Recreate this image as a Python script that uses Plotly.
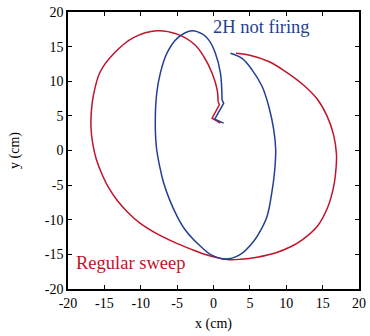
import plotly.graph_objects as go

# Regular sweep (red) trajectory: main smooth loop
red_x = [3.1, 4.85, 7.6, 9.9, 12.2, 14.2, 15.6, 16.5, 16.9, 16.85, 16.5, 15.7, 14.3, 12.2, 10.6, 8.5,
         6.0, 3.8, 1.87, -0.88, -3.2, -5.5, -8.0, -10.1, -11.9, -13.3, -14.4, -15.3, -16.1, -16.6,
         -16.85, -16.8, -16.5, -15.6, -13.7, -11.0, -7.8, -5.0, -2.6, -1.3, -0.2, 0.5, 0.63]
red_y = [14.05, 13.8, 12.85, 11.4, 9.6, 7.5, 5.0, 2.3, -0.5, -2.5, -5.3, -8.2, -10.9, -12.9, -13.9, -14.8,
         -15.4, -15.7, -15.75, -15.1, -14.2, -13.2, -11.9, -10.5, -8.8, -7.1, -5.4, -3.5, -1.3, 1.0,
         3.5, 5.5, 8.0, 11.3, 14.0, 16.3, 17.3, 16.8, 15.3, 13.5, 11.2, 8.8, 7.07]
# red end hook
red_hook_x = [0.63, 0.8, -0.19, 0.95]
red_hook_y = [7.07, 6.6, 4.67, 3.95]

# 2H not firing (blue) trajectory: main smooth loop
blue_x = [2.33, 3.93, 5.3, 6.69, 7.6, 8.28, 8.55, 8.4, 8.0, 7.37, 6.5, 5.53, 3.7, 1.64, -0.43, -1.6,
          -2.72, -4.0, -5.0, -6.0, -6.85, -7.4, -7.85, -8.0, -7.8, -7.3, -6.4, -5.0, -3.0, -1.5,
          -0.66, 0.26, 0.95, 1.18]
blue_y = [14.05, 13.3, 11.65, 9.24, 6.35, 3.0, 0.1, -3.0, -6.2, -9.5, -11.5, -13.1, -15.0, -15.67, -15.0, -14.0,
          -12.9, -11.3, -9.5, -7.2, -4.7, -2.3, 0.5, 4.4, 8.3, 11.2, 14.05, 16.2, 17.3, 16.8,
          15.97, 14.05, 11.2, 7.3]
# blue end hook
blue_hook_x = [1.18, 1.4, 0.17, 1.4]
blue_hook_y = [7.3, 6.84, 4.53, 3.95]

ticks = [-20, -15, -10, -5, 0, 5, 10, 15, 20]
tick_labels = [str(t) for t in ticks]

RED = "#c0142a"
BLUE = "#233f94"
FONT = "Liberation Serif"

fig = go.Figure()
for xs, ys, col, shape in [(red_x, red_y, RED, "spline"), (red_hook_x, red_hook_y, RED, "linear"),
                           (blue_x, blue_y, BLUE, "spline"), (blue_hook_x, blue_hook_y, BLUE, "linear")]:
    line = dict(color=col, width=1.5, shape=shape)
    if shape == "spline":
        line["smoothing"] = 1.0
    fig.add_trace(go.Scatter(x=xs, y=ys, mode="lines", line=line,
                             showlegend=False, hoverinfo="skip"))

# invisible trace to activate the mirrored (top/right) axes
fig.add_trace(go.Scatter(x=[ticks[0]], y=[ticks[0]], xaxis="x2", yaxis="y2", mode="markers",
                         marker=dict(opacity=0), showlegend=False, hoverinfo="skip"))

fig.add_annotation(x=-0.4, y=17.9, text="2H not firing", showarrow=False, xanchor="left",
                   yanchor="middle", font=dict(family=FONT, size=18.5, color=BLUE))
fig.add_annotation(x=-19.2, y=-16.2, text="Regular sweep", showarrow=False, xanchor="left",
                   yanchor="middle", font=dict(family=FONT, size=18.5, color=RED))

axis_common = dict(range=[-20, 20], tickvals=ticks, ticktext=tick_labels, showgrid=False,
                   zeroline=False, showline=True, linecolor="black", linewidth=1.5,
                   mirror="ticks", ticks="inside", ticklen=4, tickcolor="black",
                   automargin=False,
                   tickfont=dict(family=FONT, size=14, color="black"))
mirror_common = dict(range=[-20, 20], tickvals=ticks, showticklabels=False, showgrid=False,
                     zeroline=False, showline=True, linecolor="black", linewidth=1.2,
                     ticks="inside", ticklen=4, tickcolor="black", automargin=False)

fig.update_layout(
    width=370, height=336,
    margin=dict(l=68, r=11, t=12, b=47),
    paper_bgcolor="white", plot_bgcolor="white",
    xaxis=dict(**axis_common, title=dict(text="x (cm)", font=dict(family=FONT, size=14, color="black"), standoff=9)),
    yaxis=dict(**axis_common, title=dict(text="y (cm)", font=dict(family=FONT, size=14, color="black"), standoff=22)),
    xaxis2=dict(**mirror_common, overlaying="x", side="top", anchor="y"),
    yaxis2=dict(**mirror_common, overlaying="y", side="right", anchor="x"),
)

fig.write_html("out.html", config={"displayModeBar": False},
               post_script="document.body.style.margin='0';document.body.style.padding='0';")
